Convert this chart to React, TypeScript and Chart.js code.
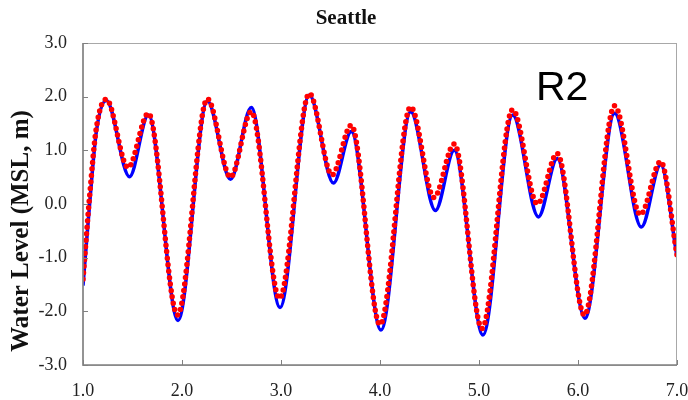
import React, { useEffect, useRef } from "react";
import { Chart, registerables } from "chart.js";
Chart.register(...registerables);

// Observed (blue) – times in days, levels in m
const blueTimes = [1.0, 1.067, 1.135, 1.235, 1.47, 1.66, 1.96, 2.256, 2.49, 2.70, 2.99, 3.286, 3.53, 3.71, 4.01, 4.31, 4.56, 4.75, 5.04, 5.34, 5.60, 5.79, 6.07, 6.37, 6.64, 6.835, 7.0];
const blueLevels = [-1.52, 0.0, 1.35, 1.93, 0.51, 1.66, -2.17, 1.92, 0.46, 1.80, -1.93, 2.03, 0.39, 1.35, -2.35, 1.72, -0.12, 1.0, -2.44, 1.66, -0.24, 0.85, -2.13, 1.69, -0.43, 0.73, -0.98];

// Model (red dots)
const redTimes = [1.0, 1.067, 1.135, 1.235, 1.455, 1.66, 1.955, 2.256, 2.49, 2.70, 2.985, 3.286, 3.515, 3.71, 4.0, 4.31, 4.545, 4.75, 5.03, 5.34, 5.59, 5.79, 6.065, 6.37, 6.63, 6.835, 7.0];
const redLevels = [-1.4, 0.15, 1.42, 1.95, 0.68, 1.69, -2.07, 1.96, 0.50, 1.72, -1.76, 2.06, 0.54, 1.47, -2.25, 1.81, 0.12, 1.12, -2.32, 1.76, 0.0, 0.94, -2.07, 1.83, -0.20, 0.79, -0.95];

const xTicks = [1, 2, 3, 4, 5, 6, 7];
const yTicks = [-3, -2, -1, 0, 1, 2, 3];
const chartTitle = "Seattle";
const yAxisTitle = "Water Level (MSL, m)";
const annotationText = "R2";

const tickFont = { family: "'Liberation Serif', 'Times New Roman', serif", size: 18 };

export default function App() {
  const ref = useRef<HTMLCanvasElement>(null);

  useEffect(() => {
    const canvas = ref.current;
    if (!canvas) return;

    const decorPlugin = {
      id: "decor",
      afterDraw(chart: any) {
        const ctx = chart.ctx as CanvasRenderingContext2D;
        const a = chart.chartArea;
        const xs = chart.scales.x;
        const ys = chart.scales.y;
        ctx.save();
        // frame
        ctx.strokeStyle = "#a8a8a8";
        ctx.lineWidth = 1;
        ctx.strokeRect(a.left, a.top + 0.5, a.right - a.left - 0.5, a.bottom - a.top);
        ctx.strokeStyle = "#808080";
        ctx.lineWidth = 1.5;
        ctx.beginPath();
        ctx.moveTo(a.left, a.top);
        ctx.lineTo(a.left, a.bottom);
        ctx.lineTo(a.right, a.bottom);
        ctx.stroke();
        // inward tick marks
        ctx.lineWidth = 1;
        ctx.beginPath();
        for (const v of xTicks) {
          const px = Math.round(xs.getPixelForValue(v)) + 0.5;
          ctx.moveTo(px, a.bottom);
          ctx.lineTo(px, a.bottom - 5);
        }
        for (const v of yTicks) {
          const py = Math.round(ys.getPixelForValue(v)) + 0.5;
          ctx.moveTo(a.left, py);
          ctx.lineTo(a.left + 5, py);
        }
        ctx.stroke();

        // title
        ctx.fillStyle = "#111";
        ctx.textAlign = "center";
        ctx.textBaseline = "alphabetic";
        ctx.font = "bold 20px 'Liberation Serif', 'Times New Roman', serif";
        ctx.save();
        ctx.translate(346, 24);
        ctx.scale(1.05, 1.1);
        ctx.fillText(chartTitle, 0, 0);
        ctx.restore();

        // y axis title
        ctx.save();
        ctx.translate(28, 231);
        ctx.rotate(-Math.PI / 2);
        ctx.font = "bold 25px 'Liberation Serif', 'Times New Roman', serif";
        ctx.fillText(yAxisTitle, 0, 0);
        ctx.restore();

        // R2 annotation
        ctx.save();
        ctx.fillStyle = "#000";
        ctx.textAlign = "left";
        ctx.font = "41px 'Liberation Sans', Arial, sans-serif";
        ctx.fillText(annotationText, 536, 100);
        ctx.restore();

        ctx.restore();
      },
    };

    const chart = new Chart(canvas, {
      type: "line",
      data: {
        datasets: [
          {
            label: "Model",
            data: redTimes.map((t, i) => ({ x: t, y: redLevels[i] })),
            borderColor: "#ff0000",
            borderWidth: 5.5,
            borderDash: [0, 6.5],
            borderCapStyle: "round",
            pointRadius: 0,
            cubicInterpolationMode: "monotone",
            fill: false,
          },
          {
            label: "Observed",
            data: blueTimes.map((t, i) => ({ x: t, y: blueLevels[i] })),
            borderColor: "#0000ff",
            borderWidth: 3.5,
            pointRadius: 0,
            cubicInterpolationMode: "monotone",
            fill: false,
          },
        ],
      },
      options: {
        responsive: false,
        animation: false,
        devicePixelRatio: 1,
        layout: { padding: { top: 43, right: 11, left: 0, bottom: 0 } },
        plugins: {
          legend: { display: false },
          tooltip: { enabled: false },
          title: { display: false },
        },
        scales: {
          x: {
            type: "linear",
            min: 1,
            max: 7,
            afterBuildTicks: (s: any) => {
              s.ticks = xTicks.map((v) => ({ value: v }));
            },
            afterFit: (s: any) => {
              s.height = 35;
              s.paddingLeft = 0;
              s.paddingRight = 0;
            },
            grid: { display: false, drawTicks: false },
            border: { display: false },
            ticks: {
              padding: 15,
              font: tickFont,
              color: "#222",
              maxRotation: 0,
              autoSkip: false,
              callback: (v: any) => Number(v).toFixed(1),
            },
          },
          y: {
            type: "linear",
            min: -3,
            max: 3,
            afterBuildTicks: (s: any) => {
              s.ticks = yTicks.map((v) => ({ value: v }));
            },
            afterFit: (s: any) => {
              s.width = 83;
              s.paddingTop = 0;
              s.paddingBottom = 0;
            },
            grid: { display: false, drawTicks: false },
            border: { display: false },
            ticks: {
              padding: 16,
              font: tickFont,
              color: "#222",
              autoSkip: false,
              callback: (v: any) => Number(v).toFixed(1),
            },
          },
        },
      },
      plugins: [decorPlugin],
    } as any);

    return () => chart.destroy();
  }, []);

  return (
    <div style={{ position: "fixed", left: 0, top: 0, width: 688, height: 400, background: "#fff" }}>
      <canvas ref={ref} width={688} height={400} style={{ display: "block" }} />
    </div>
  );
}
